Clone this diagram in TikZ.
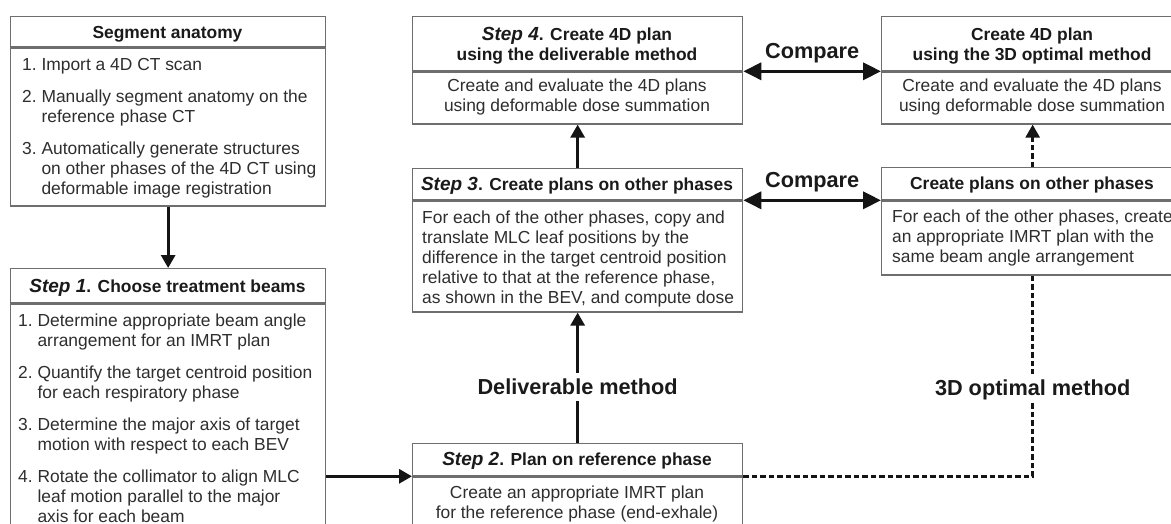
\documentclass[tikz,border=0pt]{standalone}
\usepackage{fontspec}
\setmainfont{Liberation Sans}
\usetikzlibrary{arrows.meta}
\definecolor{boxgray}{HTML}{6E6E6E}
\definecolor{bodytxt}{HTML}{2E2E2E}
\definecolor{headtxt}{HTML}{1A1A1A}
\definecolor{arrblack}{HTML}{141414}
\newcommand\mybody{\fontsize{17.4}{20}\selectfont}
\newcommand\myhead{\fontsize{17.4}{20}\selectfont\bfseries}
\newcommand\mystep{\fontsize{19}{20}\selectfont\bfseries\itshape}
\newcommand\mylbl{\fontsize{21.7}{24}\selectfont\bfseries}
\newcommand\ind[1]{\hphantom{#1.~}}
\begin{document}
\begin{tikzpicture}[x=1pt,y=-1pt,
  frame/.style={rectangle,draw=boxgray,line width=1.3pt,fill=white,inner sep=0pt,anchor=north west},
  htxt/.style={font=\myhead,text=headtxt,align=center,inner sep=0pt,anchor=north},
  btxt/.style={font=\mybody,text=bodytxt,inner sep=0pt},
  lbl/.style={font=\mylbl,text=headtxt,text height=15.5pt,text depth=0pt},
  gaplbl/.style={lbl,fill=white,inner xsep=3pt,inner ysep=6.5pt},
  arr/.style={draw=arrblack,line width=3pt,-{Triangle[length=13pt,width=14pt]}},
  cmp/.style={draw=arrblack,line width=3.4pt,{Triangle[length=18pt,width=17pt]}-{Triangle[length=18pt,width=17pt]}},
  dsh/.style={draw=arrblack,line width=2.6pt,dash pattern=on 5.5pt off 3pt},
  dsharr/.style={dsh,-{Triangle[length=13pt,width=14pt]}}
]
\useasboundingbox (0,0) rectangle (1171,523);
\fill[white] (0,0) rectangle (1171,523);
\clip (0,0) rectangle (1171,523);

% ---- frames ----
\node[frame,minimum width=315pt,minimum height=30pt] (aH) at (10,16) {};
\node[frame,minimum width=315pt,minimum height=158pt] (aB) at (aH.south west) {};
\node[frame,minimum width=315pt,minimum height=34pt] (bH) at (10,268) {};
\node[frame,minimum width=315pt,minimum height=240pt] (bB) at (bH.south west) {};
\node[frame,minimum width=330pt,minimum height=54pt] (cH) at (412,16) {};
\node[frame,minimum width=330pt,minimum height=52pt] (cB) at (cH.south west) {};
\node[frame,minimum width=330pt,minimum height=31pt] (dH) at (412,168) {};
\node[frame,minimum width=330pt,minimum height=111pt] (dB) at (dH.south west) {};
\node[frame,minimum width=330pt,minimum height=32pt] (eH) at (412,443) {};
\node[frame,minimum width=330pt,minimum height=80pt] (eB) at (eH.south west) {};
\node[frame,minimum width=302pt,minimum height=54pt] (fH) at (881,16) {};
\node[frame,minimum width=302pt,minimum height=52pt] (fB) at (fH.south west) {};
\node[frame,minimum width=302pt,minimum height=32pt] (gH) at (881,167) {};
\node[frame,minimum width=302pt,minimum height=74pt] (gB) at (gH.south west) {};

% ---- header texts ----
\node[htxt] (aT) at (167.5,24) {\strut Segment anatomy};
\node[htxt] (bT) at (167.5,278) {\strut{\mystep Step 1}. Choose treatment beams};
\node[htxt] (cT) at (577,26) {\strut{\mystep Step 4}. Create 4D plan\\using the deliverable method};
\node[htxt] (dT) at (577,176) {\strut{\mystep Step 3}. Create plans on other phases};
\node[htxt] (eT) at (577,451) {\strut{\mystep Step 2}. Plan on reference phase};
\node[htxt] (fT) at (1032,26) {\strut Create 4D plan\\using the 3D optimal method};
\node[htxt] (gT) at (1032,175) {\strut Create plans on other phases};

% ---- body texts ----
\node[btxt,align=left,anchor=north west] (aX) at (22,56) {\strut 1.~Import a 4D CT scan\\[12pt]
2.~Manually segment anatomy on the\\
\ind{2}reference phase CT\\[12pt]
3.~Automatically generate structures\\
\ind{3}on other phases of the 4D CT using\\
\ind{3}deformable image registration};

\node[btxt,align=left,anchor=north west] (bX) at (18,312) {\strut 1.~Determine appropriate beam angle\\
\ind{1}arrangement for an IMRT plan\\[12pt]
2.~Quantify the target centroid position\\
\ind{2}for each respiratory phase\\[12pt]
3.~Determine the major axis of target\\
\ind{3}motion with respect to each BEV\\[12pt]
4.~Rotate the collimator to align MLC\\
\ind{4}leaf motion parallel to the major\\
\ind{4}axis for each beam};

\node[btxt,align=center,anchor=north] (cX) at (577,77) {\strut Create and evaluate the 4D plans\\using deformable dose summation};

\node[btxt,align=left,anchor=north west] (dX) at (422,209) {\strut For each of the other phases, copy and\\
translate MLC leaf positions by the\\
difference in the target centroid position\\
relative to that at the reference phase,\\
as shown in the BEV, and compute dose};

\node[btxt,align=center,anchor=north] (eX) at (577,484) {\strut Create an appropriate IMRT plan\\for the reference phase (end-exhale)};

\node[btxt,align=center,anchor=north] (fX) at (1032,77) {\strut Create and evaluate the 4D plans\\using deformable dose summation};

\node[btxt,align=left,anchor=north west] (gX) at (892,208) {\strut For each of the other phases, create\\
an appropriate IMRT plan with the\\
same beam angle arrangement};

% ---- connectors ----
\draw[arr] (aB.south) -- (bH.north);
\draw[arr] (eH.south west -| bB.east) -- (eH.south west);
\draw[arr] (dH.north) -- (cB.south);
\draw[arr] (eH.north) -- node[gaplbl,pos=0.43] (dlab) {Deliverable method} (dB.south);
\coordinate (corner) at (eH.south east -| gB.south);
\draw[dsh] (eH.south east) -- (corner) -- node[gaplbl,pos=0.44] (olab) {3D optimal method} (gB.south);
\draw[dsharr] (gH.north) -- (fB.south);
\draw[cmp] (cH.south east) -- node[lbl,above=11pt,inner sep=0pt] (cmp1) {Compare} (fH.south west);
\draw[cmp] (dH.south east) -- node[lbl,above=11pt,inner sep=0pt] (cmp2) {Compare} (gH.south west);
\end{tikzpicture}
\end{document}
